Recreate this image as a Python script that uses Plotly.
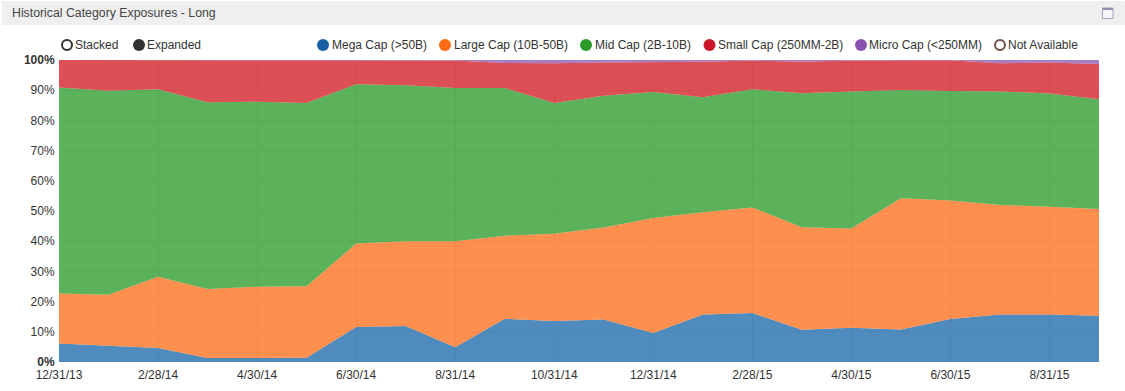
import plotly.graph_objects as go

dates = ["12/31/13","1/31/14","2/28/14","3/31/14","4/30/14","5/31/14","6/30/14","7/31/14","8/31/14","9/30/14","10/31/14",
         "11/30/14","12/31/14","1/31/15","2/28/15","3/31/15","4/30/15","5/31/15","6/30/15","7/31/15","8/31/15","9/30/15"]
tick_labels = dates[0::2]
y_ticks = [0,10,20,30,40,50,60,70,80,90,100]
y_labels = ["<b>0%</b>","10%","20%","30%","40%","50%","60%","70%","80%","90%","<b>100%</b>"]

mega = [6.1,5.3,4.6,1.3,1.3,1.4,11.6,11.9,4.9,14.3,13.6,14.1,9.6,15.7,16.2,10.7,11.3,10.8,14.2,15.7,15.7,15.3]
large = [16.6,17.0,23.6,22.9,23.6,23.7,27.6,28.1,35.1,27.5,28.9,30.4,38.1,33.9,35.0,33.9,32.9,43.4,39.3,36.3,35.7,35.4]
mid = [68.2,67.5,62.1,61.8,61.3,60.7,52.8,51.6,50.7,48.9,43.3,43.7,41.7,38.1,39.1,44.4,45.4,35.9,36.2,37.6,37.5,36.3]
small = [9.1,10.2,9.7,14.0,13.8,14.2,7.9,8.3,9.1,8.3,13.1,11.0,9.9,11.7,9.5,10.4,10.2,9.8,10.2,9.3,10.3,11.7]
micro = [0,0,0,0,0,0,0.1,0.1,0.2,1.0,1.1,0.8,0.7,0.6,0.2,0.6,0.2,0.1,0.1,1.1,0.8,1.3]

names = ["Mega Cap (>50B)","Large Cap (10B-50B)","Mid Cap (2B-10B)","Small Cap (250MM-2B)","Micro Cap (<250MM)"]
rgb = [(20,100,165),(255,106,19),(36,152,36),(208,22,28),(138,82,176)]
opacity = 0.75

L, R, T, B = 59, 1099, 60, 362
W, H = 1125, 391
px = lambda x: (x - L) / (R - L)
py = lambda y: (B - y) / (B - T)

fig = go.Figure()
for name, vals, c in zip(names, [mega, large, mid, small, micro], rgb):
    fig.add_trace(go.Scatter(
        x=dates, y=vals, name=name, mode="lines", stackgroup="one",
        line=dict(width=0), fillcolor=f"rgba({c[0]},{c[1]},{c[2]},{opacity})",
        hoverinfo="x+y+name", showlegend=False))

shapes = [dict(type="rect", xref="paper", yref="paper", x0=px(2), x1=px(1125), y0=py(1), y1=py(25),
               fillcolor="#efefef", line_width=0, layer="below"),
          dict(type="rect", xref="paper", yref="paper", x0=px(1102.5), x1=px(1113), y0=py(8), y1=py(18.5),
               fillcolor="#f6f6f8", line=dict(color="#a3a3c0", width=1)),
          dict(type="rect", xref="paper", yref="paper", x0=px(1102.5), x1=px(1113), y0=py(8), y1=py(10),
               fillcolor="#8f8fb0", line_width=0)]
annotations = [dict(text="Historical Category Exposures - Long", xref="paper", yref="paper", x=px(12), y=py(13),
                    xanchor="left", yanchor="middle", showarrow=False, xshift=-2,
                    font=dict(size=12.3, color="#444"))]

legend_items = [("Stacked",67,75,"#ffffff","#333333"),("Expanded",139,147,"#333333","#333333"),
                (names[0],323,332,"#1a5fa5","#1a5fa5"),(names[1],445,453.5,"#ff6a13","#ff6a13"),
                (names[2],586,594.6,"#2a9a2a","#2a9a2a"),(names[3],709.5,717.5,"#cb1425","#cb1425"),
                (names[4],861,869,"#8a52b0","#8a52b0"),("Not Available",1000,1008,"#ffffff","#6d4c41")]
for label, cx, tx, fill, stroke in legend_items:
    hollow = fill == "#ffffff"
    r = 5 if hollow else 6
    shapes.append(dict(type="circle", xref="paper", yref="paper", x0=px(cx-r), x1=px(cx+r),
                       y0=py(45+r), y1=py(45-r), fillcolor=fill,
                       line=dict(color=stroke, width=2 if hollow else 0)))
    annotations.append(dict(text=label.replace("<","&lt;").replace(">","&gt;"), xref="paper", yref="paper", x=px(tx), y=py(45),
                            xanchor="left", yanchor="middle", showarrow=False,
                            font=dict(size=12, color="#333"), xshift=-2))

fig.update_layout(
    width=W, height=H, autosize=False,
    margin=dict(l=L, r=W-R, t=T, b=H-B, pad=0),
    paper_bgcolor="#ffffff", plot_bgcolor="#ffffff",
    font=dict(family="Liberation Sans, Arial, sans-serif", size=12, color="#333"),
    shapes=shapes, annotations=annotations, showlegend=False,
    xaxis=dict(type="category", categoryorder="array", categoryarray=dates, range=[0,21],
               tickmode="array", tickvals=tick_labels, ticktext=tick_labels,
               showgrid=True, gridcolor="#e5e5e5", gridwidth=1, zeroline=False, showline=False,
               automargin=False, ticks="outside", ticklen=2, tickcolor="rgba(0,0,0,0)", tickangle=0),
    yaxis=dict(range=[0,100], tickmode="array", tickvals=y_ticks, ticktext=y_labels,
               showgrid=True, gridcolor="#e5e5e5", gridwidth=1, zeroline=False, showline=False,
               automargin=False, ticks="outside", ticklen=1, tickcolor="rgba(0,0,0,0)"),
)
fig.write_html("out.html", config={"displayModeBar": False},
               post_script="document.body.style.margin='0';document.body.style.overflow='hidden';")
